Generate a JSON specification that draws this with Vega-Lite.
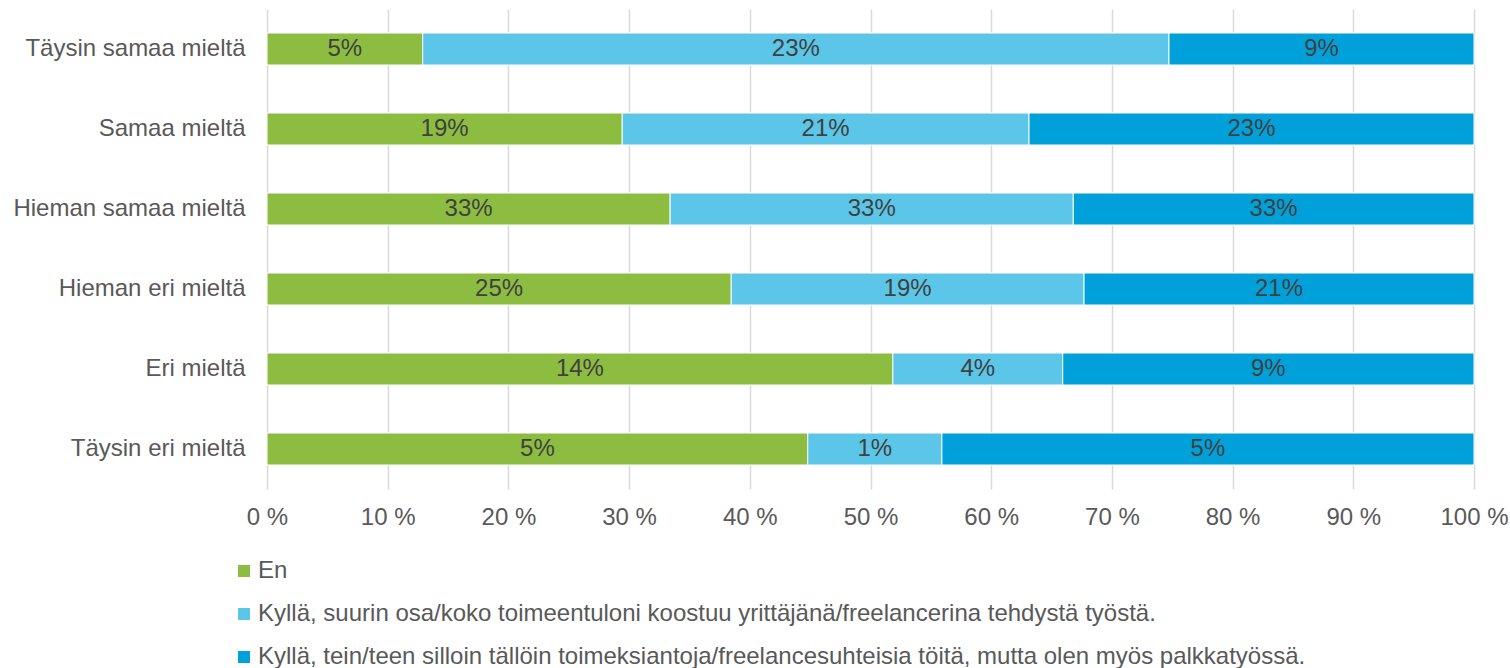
{
  "$schema": "https://vega.github.io/schema/vega-lite/v6.json",
  "width": 1207,
  "height": 480,
  "autosize": {"type": "none"},
  "padding": {"left": 267, "top": 9, "right": 36, "bottom": 179},
  "background": "white",
  "config": {
    "view": {"stroke": null},
    "font": "Liberation Sans"
  },
  "data": {
    "values": [
      {"q": "Täysin samaa mieltä", "c": "En", "o": 1, "value": 0.048},
      {"q": "Täysin samaa mieltä", "c": "Kyllä, suurin osa/koko toimeentuloni koostuu yrittäjänä/freelancerina tehdystä työstä.", "o": 2, "value": 0.230},
      {"q": "Täysin samaa mieltä", "c": "Kyllä, tein/teen silloin tällöin toimeksiantoja/freelancesuhteisia töitä, mutta olen myös palkkatyössä.", "o": 3, "value": 0.094},
      {"q": "Samaa mieltä", "c": "En", "o": 1, "value": 0.186},
      {"q": "Samaa mieltä", "c": "Kyllä, suurin osa/koko toimeentuloni koostuu yrittäjänä/freelancerina tehdystä työstä.", "o": 2, "value": 0.213},
      {"q": "Samaa mieltä", "c": "Kyllä, tein/teen silloin tällöin toimeksiantoja/freelancesuhteisia töitä, mutta olen myös palkkatyössä.", "o": 3, "value": 0.233},
      {"q": "Hieman samaa mieltä", "c": "En", "o": 1, "value": 0.334},
      {"q": "Hieman samaa mieltä", "c": "Kyllä, suurin osa/koko toimeentuloni koostuu yrittäjänä/freelancerina tehdystä työstä.", "o": 2, "value": 0.334},
      {"q": "Hieman samaa mieltä", "c": "Kyllä, tein/teen silloin tällöin toimeksiantoja/freelancesuhteisia töitä, mutta olen myös palkkatyössä.", "o": 3, "value": 0.332},
      {"q": "Hieman eri mieltä", "c": "En", "o": 1, "value": 0.25},
      {"q": "Hieman eri mieltä", "c": "Kyllä, suurin osa/koko toimeentuloni koostuu yrittäjänä/freelancerina tehdystä työstä.", "o": 2, "value": 0.19},
      {"q": "Hieman eri mieltä", "c": "Kyllä, tein/teen silloin tällöin toimeksiantoja/freelancesuhteisia töitä, mutta olen myös palkkatyössä.", "o": 3, "value": 0.21},
      {"q": "Eri mieltä", "c": "En", "o": 1, "value": 0.14},
      {"q": "Eri mieltä", "c": "Kyllä, suurin osa/koko toimeentuloni koostuu yrittäjänä/freelancerina tehdystä työstä.", "o": 2, "value": 0.038},
      {"q": "Eri mieltä", "c": "Kyllä, tein/teen silloin tällöin toimeksiantoja/freelancesuhteisia töitä, mutta olen myös palkkatyössä.", "o": 3, "value": 0.092},
      {"q": "Täysin eri mieltä", "c": "En", "o": 1, "value": 0.05},
      {"q": "Täysin eri mieltä", "c": "Kyllä, suurin osa/koko toimeentuloni koostuu yrittäjänä/freelancerina tehdystä työstä.", "o": 2, "value": 0.0124},
      {"q": "Täysin eri mieltä", "c": "Kyllä, tein/teen silloin tällöin toimeksiantoja/freelancesuhteisia töitä, mutta olen myös palkkatyössä.", "o": 3, "value": 0.0492}
    ]
  },
  "transform": [
    {"stack": "value", "groupby": ["q"], "sort": [{"field": "o"}], "offset": "normalize", "as": ["x0", "x1"]},
    {"calculate": "(datum.x0 + datum.x1) / 2", "as": "mid"}
  ],
  "encoding": {
    "y": {
      "field": "q",
      "type": "nominal",
      "sort": ["Täysin samaa mieltä", "Samaa mieltä", "Hieman samaa mieltä", "Hieman eri mieltä", "Eri mieltä", "Täysin eri mieltä"],
      "scale": {"paddingInner": 0.6, "paddingOuter": 0.3},
      "axis": {
        "title": null,
        "ticks": false,
        "domain": false,
        "labelFontSize": 24,
        "labelColor": "#595959",
        "labelPadding": 22,
        "labelLimit": 400
      }
    }
  },
  "layer": [
    {
      "mark": {"type": "bar", "stroke": "white", "strokeWidth": 1},
      "encoding": {
        "x": {
          "field": "x0",
          "type": "quantitative",
          "scale": {"domain": [0, 1]},
          "axis": {
            "values": [0, 0.1, 0.2, 0.3, 0.4, 0.5, 0.6, 0.7, 0.8, 0.9, 1],
            "labelExpr": "format(datum.value * 100, 'd') + ' %'",
            "labelFontSize": 24,
            "labelColor": "#595959",
            "labelPadding": 16,
            "labelOverlap": false,
            "ticks": false,
            "domain": false,
            "grid": true,
            "gridColor": "#d9d9d9",
            "gridWidth": 1.5,
            "labelFlush": false,
            "title": null
          }
        },
        "x2": {"field": "x1"},
        "color": {
          "field": "c",
          "type": "nominal",
          "sort": ["En", "Kyllä, suurin osa/koko toimeentuloni koostuu yrittäjänä/freelancerina tehdystä työstä.", "Kyllä, tein/teen silloin tällöin toimeksiantoja/freelancesuhteisia töitä, mutta olen myös palkkatyössä."],
          "scale": {"range": ["#8cbd41", "#5bc6e8", "#00a0da"]},
          "legend": {
            "title": null,
            "orient": "none",
            "legendX": -35,
            "legendY": 550,
            "direction": "vertical",
            "symbolType": "square",
            "symbolSize": 144,
            "symbolStrokeWidth": 0,
            "labelFontSize": 24,
            "labelColor": "#595959",
            "labelOffset": 2,
            "labelLimit": 1300,
            "rowPadding": 19
          }
        }
      }
    },
    {
      "mark": {"type": "text", "fontSize": 24, "color": "#404040"},
      "encoding": {
        "x": {
          "field": "mid",
          "type": "quantitative",
          "scale": {"domain": [0, 1]},
          "axis": {
            "values": [0, 0.1, 0.2, 0.3, 0.4, 0.5, 0.6, 0.7, 0.8, 0.9, 1],
            "labelExpr": "format(datum.value * 100, 'd') + ' %'",
            "labelFontSize": 24,
            "labelColor": "#595959",
            "labelPadding": 16,
            "labelOverlap": false,
            "ticks": false,
            "domain": false,
            "grid": true,
            "gridColor": "#d9d9d9",
            "gridWidth": 1.5,
            "labelFlush": false,
            "title": null
          }
        },
        "text": {"field": "value", "type": "quantitative", "format": ".0%"}
      }
    }
  ]
}
